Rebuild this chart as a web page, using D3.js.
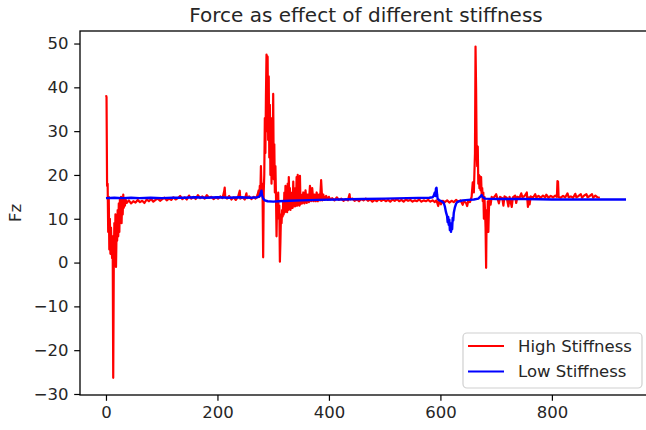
<!DOCTYPE html>
<html>
<head>
<meta charset="utf-8">
<script src="https://cdn.jsdelivr.net/npm/d3@7"></script>
<style>
  html, body { margin: 0; padding: 0; background: #fff; }
  svg { display: block; }
  text { font-family: "DejaVu Sans", sans-serif; fill: #262626; }
</style>
</head>
<body>
<svg id="chart" width="646" height="430"></svg>
<script>
// ---------- data ----------
const chartTitle = "Force as effect of different stiffness";
const yLabel = "Fz";
const seriesNames = ["High Stiffness", "Low Stiffness"];
const xTicks = [0, 200, 400, 600, 800];
const yTicks = [-30, -20, -10, 0, 10, 20, 30, 40, 50];

// High stiffness (red) : sample index and Fz value
const highSteps = [
  0,1,2,3,4,5,6,7,8,9,10,11,12,13,14,15,16,17,18,19,20,21,22,23,24,25,26,27,28,29,30,31,32,33,34,35,
  37,41,45,49,53,57,61,65,69,73,77,81,85,89,93,97,101,105,109,113,117,121,125,129,133,137,141,145,149,153,157,161,165,169,173,177,181,185,189,193,197,201,205,209,212,213,214,217,221,225,229,233,237,240,241,245,249,252,253,257,261,265,268,
  270,272,274,275,276,277,278,279,280,281,282,283,284,285,286,287,288,289,290,291,292,293,294,295,296,297,298,299,300,301,302,303,304,305,306,307,308,309,310,311,312,313,314,315,316,317,318,319,320,321,322,323,324,325,326,327,328,329,330,331,332,333,334,335,336,337,338,339,340,341,342,343,344,345,346,347,348,349,350,352,354,356,358,360,362,364,366,368,370,372,374,376,378,380,382,384,386,388,390,392,395,398,400,
  402,406,410,414,418,422,426,430,434,437,438,442,446,450,454,458,462,466,470,474,478,482,486,490,494,498,502,506,510,514,518,522,526,530,534,538,542,546,550,554,558,562,566,570,574,578,582,586,
  590,593,596,598,601,604,608,612,616,620,624,628,632,636,640,642,646,648,650,653,656,
  658,660,662,663,664,665,666,667,668,669,670,671,672,673,674,675,676,677,678,679,680,681,682,683,684,685,686,687,688,
  690,692,694,698,700,702,705,707,711,713,715,719,722,724,728,730,734,736,738,742,745,747,751,755,757,759,760,762,766,770,772,776,780,784,788,790,794,798,802,806,809,810,811,812,816,820,824,828,830,834,838,842,844,848,852,854,858,862,864,868,872,874,878,882,886
];
const highForce = [
  38.2,37.8,17.5,18,7,15,3,10,2,8,4,1,6,-26.3,-1,9,3,11,-1,7,5,12,6,13.5,7,14.5,10,15,9,14,11,15.5,12.5,14.8,13,14.5,
  13.6,14.2,13.5,14.0,13.7,14.3,13.8,14.1,13.6,14.4,14.0,14.5,13.9,14.3,14.6,14.1,14.5,14.8,14.2,14.6,14.3,14.9,14.4,14.7,15.2,14.5,14.9,14.4,15.3,14.6,15.0,14.5,15.4,14.7,15.1,14.6,15.4,14.8,15.0,14.5,14.9,14.6,15.1,14.7,16.2,17.1,15.0,14.6,15.2,14.4,14.9,14.3,15.0,16.4,14.6,14.9,14.4,15.8,14.7,15.1,14.5,15.0,14.6,
  14.8,15.5,16.5,15,17.5,16,22,17,18,15,1.2,16,20,33,25,38,47.5,30,47,28,42.5,24,36,20,33,18,30,22,38.5,19,27,16,22,15.5,6,14,11,16,10,13,0.2,5,11,9,12,10.5,14,11,16,11.5,17.5,12,15,11.5,18,12,19.5,12.5,17,12,16,12.5,15,12.5,18.5,13,16,12.8,17,13,19.5,13,20,13.2,16,13,19.8,13.3,15.5,13.5,16,13.5,16.5,13.6,15.5,13.8,17.5,14,17,14,15.5,14,16,14,15.5,14.2,18.8,14.2,15.5,14.3,15.2,14.3,15,
  14.4,14.7,14.2,14.9,14.3,14.6,14.1,14.5,14.2,15.6,14.4,14.6,14.1,14.4,14.0,14.5,14.2,14.6,14.1,14.4,13.9,14.3,14.0,14.5,14.1,14.4,14.0,14.3,13.9,14.4,14.1,14.5,14.0,14.3,13.9,14.4,14.1,14.3,13.9,14.2,14.0,14.4,13.9,14.2,14.0,14.3,13.9,14.2,
  13.8,14.2,12.9,14.0,13.3,14.1,13.8,14.2,13.7,14.1,13.8,14.3,13.9,14.2,13.2,14.0,13.6,12.9,14.1,13.8,15.0,
  18.3,16,25,49.3,40,26,22,26.5,18,20,17,19.7,16.5,19.5,15.5,17,14,16,10,15,12,8,-1.2,12,7.2,14,7,12,14.5,
  13.2,15.0,14.6,15.2,15.6,14.8,13.5,15.0,14.7,13.0,15.1,14.8,12.8,15.0,12.7,14.9,15.3,13.6,15.0,14.8,15.8,14.9,15.2,16.0,12.7,14.9,13.3,15.1,14.8,15.6,14.9,15.2,14.8,15.3,14.9,15.5,14.8,15.2,14.9,15.3,15.0,18.6,18.5,15.0,14.8,15.2,14.9,15.8,14.9,15.1,14.8,15.7,14.9,15.2,15.6,14.8,15.3,15.6,14.9,15.2,15.6,14.8,15.3,14.9,14.8
];

// Low stiffness (blue)
const lowSteps = [
  0,15,30,45,60,80,100,120,140,160,180,200,220,240,260,272,276,278,279,280,282,285,290,300,310,330,350,380,420,460,500,540,580,586,588,590,591,592,593,594,595,598,602,606,608,610,612,613,614,615,616,617,618,619,620,621,622,623,624,626,628,630,634,640,650,660,668,672,674,676,680,700,750,800,850,900,933
];
const lowForce = [
  14.7,14.8,14.7,14.8,14.7,14.8,14.7,14.8,14.8,14.9,14.8,14.9,14.8,14.9,14.8,14.9,15.2,16.0,16.4,15.4,14.6,14.2,14.0,13.9,14.0,14.1,14.2,14.3,14.4,14.5,14.6,14.7,14.8,14.9,15.3,16.0,15.2,16.9,17.1,15.6,14.6,14.2,14.0,13.6,12.8,11.5,10.6,9.2,10.4,8.6,9.8,7.4,9.0,7.0,8.8,7.6,10.2,9.6,11.4,12.6,13.4,13.8,14.0,14.2,14.3,14.4,14.6,15.1,15.4,14.9,14.6,14.5,14.5,14.4,14.4,14.4,14.4
];

const xDomain = [-46.6, 979.6];
const yDomain = [-30.23, 52.86];

// ---------- layout ----------
const svg = d3.select("#chart");
const pL = 80, pR = 652, pT = 31, pB = 395;

const x = d3.scaleLinear().domain(xDomain).range([pL, pR]);
const y = d3.scaleLinear().domain(yDomain).range([pB, pT]);

const n1 = Math.min(highSteps.length, highForce.length);
const n2 = Math.min(lowSteps.length, lowForce.length);
const high = highSteps.slice(0, n1).map((s, i) => [s, highForce[i]]);
const low = lowSteps.slice(0, n2).map((s, i) => [s, lowForce[i]]);

const line = d3.line().x(d => x(d[0])).y(d => y(d[1]));

svg.append("defs").append("clipPath").attr("id", "clip")
  .append("rect").attr("x", pL).attr("y", pT).attr("width", pR - pL).attr("height", pB - pT);

const plot = svg.append("g").attr("clip-path", "url(#clip)");
plot.append("path").datum(high).attr("d", line)
  .attr("fill", "none").attr("stroke", "#ff0000").attr("stroke-width", 2.2).attr("stroke-linejoin", "round");
plot.append("path").datum(low).attr("d", line)
  .attr("fill", "none").attr("stroke", "#0000ff").attr("stroke-width", 2.4).attr("stroke-linejoin", "round");

// axes
const tickLen = 5.8, tickPad = 5.6, fs = 16.5;
const xAxis = d3.axisBottom(x).tickValues(xTicks).tickSize(tickLen).tickPadding(tickPad).tickFormat(d3.format("d"));
const yAxis = d3.axisLeft(y).tickValues(yTicks).tickSize(tickLen).tickPadding(tickPad)
  .tickFormat(d => d < 0 ? "\u2212" + Math.abs(d) : String(d));

const gx = svg.append("g").attr("transform", `translate(0,${pB})`).call(xAxis);
const gy = svg.append("g").attr("transform", `translate(${pL},0)`).call(yAxis);
[gx, gy].forEach(g => {
  g.select(".domain").remove();
  g.selectAll(".tick line").attr("stroke", "#000").attr("stroke-width", 1.2);
  g.selectAll(".tick text").attr("font-family", "DejaVu Sans").attr("font-size", fs).attr("fill", "#262626");
});

// spines
svg.append("rect").attr("x", pL).attr("y", pT).attr("width", pR - pL).attr("height", pB - pT)
  .attr("fill", "none").attr("stroke", "#000").attr("stroke-width", 1.3);

// title & label
svg.append("text").attr("x", (pL + pR) / 2).attr("y", 22).attr("text-anchor", "middle")
  .attr("font-size", 20).text(chartTitle);
svg.append("text").attr("transform", `translate(21,${(pT + pB) / 2}) rotate(-90)`)
  .attr("text-anchor", "middle").attr("font-size", fs).text(yLabel);

// legend
const lg = svg.append("g");
lg.append("rect").attr("x", 463).attr("y", 333).attr("width", 179).attr("height", 55).attr("rx", 4)
  .attr("fill", "#fff").attr("fill-opacity", 0.8).attr("stroke", "#d0d0d0").attr("stroke-width", 1.2);
const colors = ["#ff0000", "#0000ff"];
seriesNames.forEach((name, i) => {
  const yy = 346 + i * 25.5;
  lg.append("line").attr("x1", 468).attr("x2", 504).attr("y1", yy).attr("y2", yy)
    .attr("stroke", colors[i]).attr("stroke-width", 2.2);
  lg.append("text").attr("x", 518).attr("y", yy).attr("dy", "0.36em").attr("font-size", fs).text(name);
});
</script>
</body>
</html>
